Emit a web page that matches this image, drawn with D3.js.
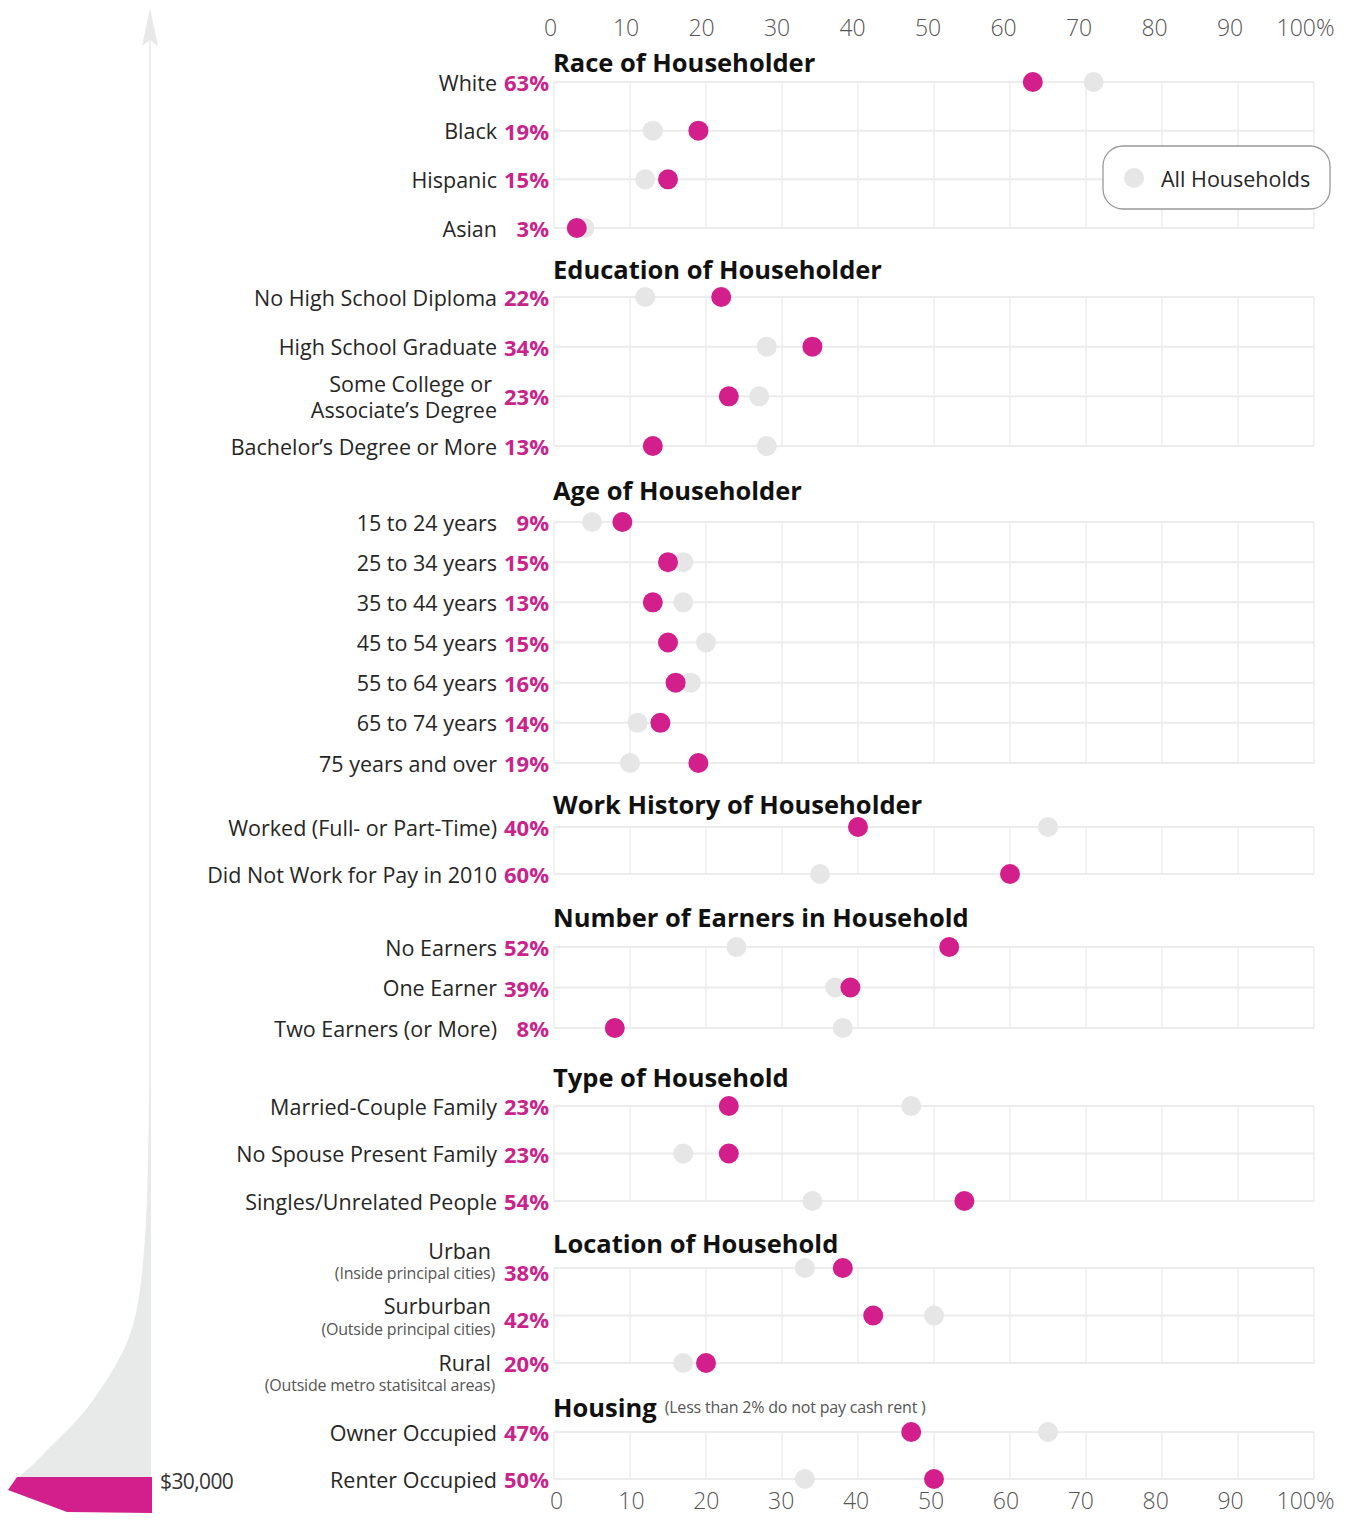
<!DOCTYPE html>
<html><head><meta charset="utf-8">
<script src="https://cdn.jsdelivr.net/npm/d3@7"></script>
<style>
html,body{margin:0;padding:0;background:#fff;}
svg{display:block;font-family:"Open Sans","Noto Sans",sans-serif;}
</style></head>
<body><svg id="c" width="1354" height="1520"></svg>
<script>
// ---------- DATA ----------
const sectionTitles = ["Race of Householder","Education of Householder","Age of Householder","Work History of Householder","Number of Earners in Household","Type of Household","Location of Household","Housing"];
const sectionNotes = ["","","","","","","","(Less than 2% do not pay cash rent )"];
const categories = [
  "White","Black","Hispanic","Asian",
  "No High School Diploma","High School Graduate","Some College or\nAssociate’s Degree","Bachelor’s Degree or More",
  "15 to 24 years","25 to 34 years","35 to 44 years","45 to 54 years","55 to 64 years","65 to 74 years","75 years and over",
  "Worked (Full- or Part-Time)","Did Not Work for Pay in 2010",
  "No Earners","One Earner","Two Earners (or More)",
  "Married-Couple Family","No Spouse Present Family","Singles/Unrelated People",
  "Urban","Surburban","Rural",
  "Owner Occupied","Renter Occupied"];
const categoryNotes = ["","","","","","","","","","","","","","","","","","","","","","","","(Inside principal cities)","(Outside principal cities)","(Outside metro statisitcal areas)","",""];
const categorySection = [0,0,0,0,1,1,1,1,2,2,2,2,2,2,2,3,3,4,4,4,5,5,5,6,6,6,7,7];
const poorValues = [63,19,15,3, 22,34,23,13, 9,15,13,15,16,14,19, 40,60, 52,39,8, 23,23,54, 38,42,20, 47,50];
const allValues  = [71,13,12,4, 12,28,27,28, 5,17,17,20,18,11,10, 65,35, 24,37,38, 47,17,34, 33,50,17, 65,33];
const axisTicks = [0,10,20,30,40,50,60,70,80,90,100];
const legendLabel = "All Households";
const incomeLabel = "$30,000";
// income distribution silhouette (relative depth, relative share)
const distDepth = [0,0.284,0.413,0.517,0.576,0.646,0.705,0.775,0.835,0.923,0.990,1.0];
const distShare = [0.008,0.023,0.045,0.076,0.106,0.167,0.25,0.379,0.508,0.758,0.962,1.0];

// ---------- LAYOUT ----------
const svg = d3.select("#c");
const x = d3.scaleLinear().domain([0,100]).range([554,1314]);
const headerY   = [62,269,490,804,917,1077,1243,1407];
const rowFirst  = [82,297,522,827,947,1106,1268,1432];
const rowLast   = [228,446,763,874,1028,1201,1363,1479];
const labelX = 497, pctX = 549;
const PINK = "#d21f8c", PINKTXT = "#c9238c", GREY = "#e6e6e6", GRID = "#ececec";
const LABEL_FS = 21.5, PCT_FS = 22, NOTE_FS = 16;

// row positions via point scales per section
const rowY = [];
sectionTitles.forEach((t,s)=>{
  const idx = categories.map((c,i)=>i).filter(i=>categorySection[i]===s);
  const sc = d3.scalePoint().domain(idx).range([rowFirst[s],rowLast[s]]);
  idx.forEach(i=>rowY[i]=sc(i));
});

// ---------- LEFT DECORATION ----------
const deco = svg.append("g");
deco.append("line").attr("x1",150).attr("x2",150).attr("y1",30).attr("y2",1478)
  .attr("stroke","#ededed").attr("stroke-width",2);
deco.append("path").attr("d","M150,8 L142,46 L150,40 L158,46 Z").attr("fill","#e8e8e8");
const dy = d3.scaleLinear().domain([0,1]).range([1090,1477]);
const dx = d3.scaleLinear().domain([0,1]).range([150,18]);
const area = d3.area().x0(151).x1(d=>dx(d[1])).y(d=>dy(d[0])).curve(d3.curveMonotoneY);
deco.append("path").datum(distDepth.map((v,i)=>[v,distShare[i]]))
  .attr("d",area).attr("fill","#e8eaea");
deco.append("path").attr("d","M152,1477 L17,1477 L8,1490 L67,1512 L152,1513 Z").attr("fill",PINK);
deco.append("text").attr("x",160).attr("y",1481).attr("dominant-baseline","central")
  .attr("font-size",21).attr("fill","#333").attr("letter-spacing",-0.6)
  .attr("font-family","'Liberation Sans Narrow','Open Sans',sans-serif")
  .text(incomeLabel);

// ---------- GRID ----------
const grid = svg.append("g");
sectionTitles.forEach((t,s)=>{
  grid.selectAll(null).data(axisTicks).enter().append("line")
    .attr("x1",d=>x(d)).attr("x2",d=>x(d)).attr("y1",rowFirst[s]).attr("y2",rowLast[s])
    .attr("stroke",GRID).attr("stroke-width",1.5);
});
grid.selectAll(null).data(categories).enter().append("line")
  .attr("x1",x(0)).attr("x2",x(100)).attr("y1",(d,i)=>rowY[i]).attr("y2",(d,i)=>rowY[i])
  .attr("stroke",GRID).attr("stroke-width",2);

// ---------- AXES ----------
function styleAxis(g){
  g.select(".domain").remove();
  g.selectAll(".tick line").remove();
  g.selectAll(".tick text").attr("font-size",23).attr("font-weight",300)
    .attr("fill","#555").attr("font-family","'Open Sans',sans-serif");
}
const fmt = d=> d===100 ? "100%" : String(d);
const xTop = d3.scaleLinear().domain([0,100]).range([550,1305]);
svg.append("g").attr("transform","translate(0,36)")
  .call(d3.axisTop(xTop).tickValues(axisTicks).tickFormat(fmt).tickSize(0).tickPadding(0)).call(styleAxis);
const xBot = d3.scaleLinear().domain([0,100]).range([556,1305]);
svg.append("g").attr("transform","translate(0,1493)")
  .call(d3.axisBottom(xBot).tickValues(axisTicks).tickFormat(fmt).tickSize(0).tickPadding(0)).call(styleAxis);

// ---------- HEADERS ----------
const hdr = svg.append("g");
sectionTitles.forEach((t,s)=>{
  const tx = hdr.append("text").attr("x",553).attr("y",headerY[s]).attr("dominant-baseline","central")
    .attr("fill","#111").attr("font-size",25.5).attr("font-weight",700);
  tx.append("tspan").text(t);
  if(sectionNotes[s]) tx.append("tspan").attr("dx",8).attr("font-size",NOTE_FS).attr("font-weight",400)
    .attr("fill","#555").attr("letter-spacing",-0.2).text(sectionNotes[s]);
});

// ---------- LABELS ----------
const lab = svg.append("g").attr("font-size",LABEL_FS).attr("fill","#262626");
const mainShift = {23:-18,24:-10,25:-1};
const pctShift = {23:4,24:3,25:0};
categories.forEach((c,i)=>{
  const y = rowY[i];
  const lines = c.split("\n");
  if(lines.length===2){
    lines.forEach((l,k)=>lab.append("text").attr("x",k===0?492:labelX).attr("y",y-13+k*26)
      .attr("text-anchor","end").attr("dominant-baseline","central").text(l));
  } else {
    const ms = mainShift[i]||0;
    lab.append("text").attr("x",categoryNotes[i]?491:labelX).attr("y",y+ms).attr("text-anchor","end")
      .attr("dominant-baseline","central").text(c);
    if(categoryNotes[i]) lab.append("text").attr("x",495).attr("y",y+ms+23).attr("text-anchor","end")
      .attr("dominant-baseline","central").attr("font-size",NOTE_FS).attr("fill","#555").attr("letter-spacing",-0.2)
      .text(categoryNotes[i]);
  }
  lab.append("text").attr("x",pctX).attr("y",y+(pctShift[i]||0)).attr("text-anchor","end")
    .attr("dominant-baseline","central").attr("font-size",PCT_FS).attr("font-weight",700).attr("fill",PINKTXT)
    .text(poorValues[i]+"%");
});

// ---------- DOTS ----------
const dots = svg.append("g");
dots.selectAll(".all").data(allValues).enter().append("circle")
  .attr("cx",d=>x(d)).attr("cy",(d,i)=>rowY[i]).attr("r",10).attr("fill",GREY);
dots.selectAll(".poor").data(poorValues).enter().append("circle")
  .attr("cx",d=>x(d)).attr("cy",(d,i)=>rowY[i]).attr("r",10).attr("fill",PINK);

// ---------- LEGEND ----------
const lg = svg.append("g");
lg.append("rect").attr("x",1103).attr("y",146).attr("width",227).attr("height",63).attr("rx",20)
  .attr("fill","#fff").attr("stroke","#999").attr("stroke-width",1.3);
lg.append("circle").attr("cx",1134).attr("cy",178).attr("r",10).attr("fill",GREY);
lg.append("text").attr("x",1161).attr("y",178).attr("dominant-baseline","central")
  .attr("font-size",21.5).attr("fill","#262626").text(legendLabel);
</script></body></html>
